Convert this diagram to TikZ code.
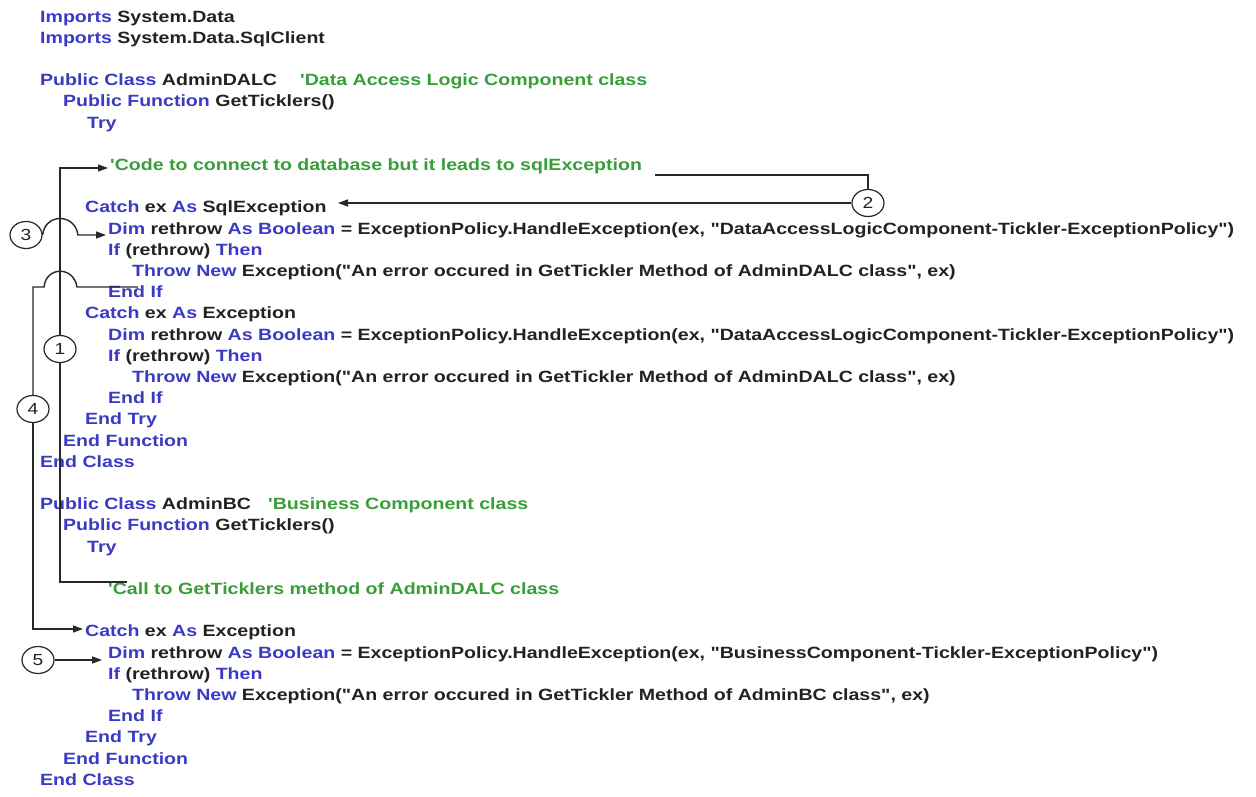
\documentclass[tikz,border=0pt]{standalone}
\usepackage{fontspec}
\usetikzlibrary{shapes.geometric,arrows.meta}
\newfontfamily\codefont[FakeStretch=1.2,Ligatures=TeXOff]{Liberation Sans}
\definecolor{kwblue}{RGB}{58,58,196}
\definecolor{cmgreen}{RGB}{56,158,56}
\definecolor{codeink}{RGB}{34,34,34}
\definecolor{lineink}{RGB}{40,40,40}
\newcommand\kw[1]{\textcolor{kwblue}{#1}}
\newcommand\cm[1]{\textcolor{cmgreen}{#1}}
\begin{document}
\begin{tikzpicture}[x=1pt,y=-1pt,
  code/.style={anchor=mid west, inner sep=0pt, text=codeink,
    font=\codefont\bfseries\fontsize{16.3}{19}\selectfont},
  badge/.style={ellipse, draw=lineink, fill=white, line width=1.2pt,
    minimum width=32pt, minimum height=27pt, inner sep=0pt, text=codeink,
    font=\codefont\fontsize{16}{16}\selectfont},
  link/.style={draw=lineink, line width=1.4pt},
  arr/.style={link, -{Triangle[length=10pt,width=7pt]}}]
\fill[white] (0,0) rectangle (1256,796);
\useasboundingbox (0,0) rectangle (1256,796);

% ---- data access class ----
\node[code] (imp1) at (40,20)   {\kw{Imports} System.Data};
\node[code] (imp2) at (40,41.2) {\kw{Imports} System.Data.SqlClient};
\node[code] (dalc) at (40,83.6) {\kw{Public Class} AdminDALC};
\node[code] (dalcnote) at (300,83.6) {\cm{'Data Access Logic Component class}};
\node[code] (dfun) at (63,104.8) {\kw{Public Function} GetTicklers()};
\node[code] (dtry) at (87,126)  {\kw{Try}};
\node[code] (dcode) at (110,168.4) {\cm{'Code to connect to database but it leads to sqlException}};
\node[code] (dcatchA) at (85,210.8) {\kw{Catch} ex \kw{As} SqlException};
\node[code] (ddimA) at (108,232) {\kw{Dim} rethrow \kw{As Boolean} = ExceptionPolicy.HandleException(ex, "DataAccessLogicComponent-Tickler-ExceptionPolicy")};
\node[code] (difA) at (108,253.2) {\kw{If} (rethrow) \kw{Then}};
\node[code] (dthrowA) at (132,274.4) {\kw{Throw New} Exception("An error occured in GetTickler Method of AdminDALC class", ex)};
\node[code] (dendifA) at (108,295.6) {\kw{End If}};
\node[code] (dcatchB) at (85,316.8) {\kw{Catch} ex \kw{As} Exception};
\node[code] (ddimB) at (108,338) {\kw{Dim} rethrow \kw{As Boolean} = ExceptionPolicy.HandleException(ex, "DataAccessLogicComponent-Tickler-ExceptionPolicy")};
\node[code] (difB) at (108,359.2) {\kw{If} (rethrow) \kw{Then}};
\node[code] (dthrowB) at (132,380.4) {\kw{Throw New} Exception("An error occured in GetTickler Method of AdminDALC class", ex)};
\node[code] (dendifB) at (108,401.6) {\kw{End If}};
\node[code] (dendtry) at (85,422.8) {\kw{End Try}};
\node[code] (dendfun) at (63,444) {\kw{End Function}};
\node[code] (dendcls) at (40,465.2) {\kw{End Class}};

% ---- business class ----
\node[code] (bc) at (40,507.6) {\kw{Public Class} AdminBC};
\node[code] (bcnote) at (268,507.6) {\cm{'Business Component class}};
\node[code] (bfun) at (63,528.8) {\kw{Public Function} GetTicklers()};
\node[code] (btry) at (87,550) {\kw{Try}};
\node[code] (bcall) at (108,592.4) {\cm{'Call to GetTicklers method of AdminDALC class}};
\node[code] (bcatch) at (85,634.8) {\kw{Catch} ex \kw{As} Exception};
\node[code] (bdim) at (108,656) {\kw{Dim} rethrow \kw{As Boolean} = ExceptionPolicy.HandleException(ex, "BusinessComponent-Tickler-ExceptionPolicy")};
\node[code] (bif) at (108,677.2) {\kw{If} (rethrow) \kw{Then}};
\node[code] (bthrow) at (132,698.4) {\kw{Throw New} Exception("An error occured in GetTickler Method of AdminBC class", ex)};
\node[code] (bendif) at (108,719.6) {\kw{End If}};
\node[code] (bendtry) at (85,740.8) {\kw{End Try}};
\node[code] (bendfun) at (63,762) {\kw{End Function}};
\node[code] (bendcls) at (40,783.2) {\kw{End Class}};

% ---- numbered step markers ----
\node[badge] (s1) at (60,349) {1};
\node[badge] (s2) at (868,203) {2};
\node[badge] (s3) at (26,235) {3};
\node[badge] (s4) at (33,409) {4};
\node[badge] (s5) at (38,660) {5};

% ---- connector end points ----
\coordinate (callStart) at (127,582);
\coordinate (codeTip) at (108,168);
\coordinate (codeEnd) at (655,175);
\coordinate (sqlTip) at (338,203);
\coordinate (dimATip) at (106,235);
\coordinate (endifStart) at (138,287);
\coordinate (catchBTip) at (83,629);
\coordinate (dimBTip) at (102,660);

% 1: call into the data layer, up to the connection code
\draw[link] (callStart) -| (s1.south);
\draw[arr] (s1.north) |- (codeTip);
% 2: the failure lands in the SqlException handler
\draw[link] (codeEnd) -| (s2.north);
\draw[arr] (s2.west) -- (sqlTip);
% 3: handler runs the exception policy (hops over line 1)
\draw[arr] (s3.east) .. controls (45,213) and (75,213) .. (78,235) -- (dimATip);
% 4: rethrown exception goes back to the business layer (hops over line 1)
\draw[link] (endifStart) -- (77,287) .. controls (74,266) and (46,266) .. (44,287) -| (s4.north);
\draw[arr] (s4.south) |- (catchBTip);
% 5: business layer applies its own policy
\draw[arr] (s5.east) -- (dimBTip);
\end{tikzpicture}
\end{document}
